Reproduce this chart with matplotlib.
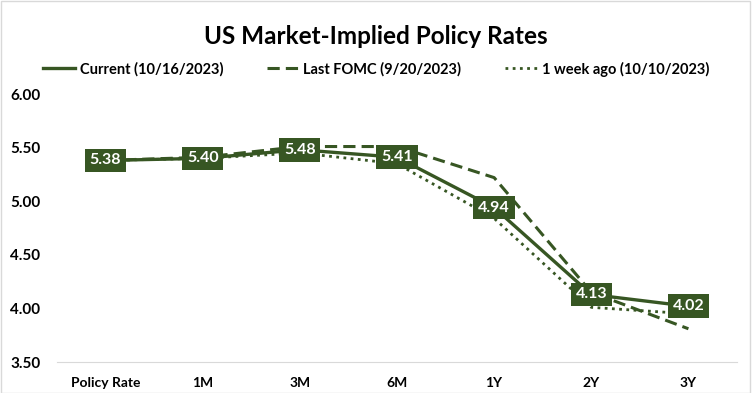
import matplotlib
matplotlib.use("Agg")
import matplotlib.pyplot as plt
from matplotlib.lines import Line2D

plt.rcParams['font.family'] = ['Lato', 'DejaVu Sans']

tenors = ['Policy Rate', '1M', '3M', '6M', '1Y', '2Y', '3Y']
current = [5.38, 5.40, 5.48, 5.41, 4.94, 4.13, 4.02]
last_fomc = [5.38, 5.41, 5.51, 5.51, 5.22, 4.15, 3.81]
week_ago = [5.38, 5.40, 5.45, 5.35, 4.84, 4.01, 3.95]

green = '#375623'

fig = plt.figure(figsize=(7.52, 3.93), dpi=100)
ax = fig.add_axes([57 / 752, 1 - 362 / 393, 680 / 752, 268 / 393])

xs = range(len(tenors))
ax.plot(xs, last_fomc, color=green, lw=2.2, ls=(0, (4, 2)))
ax.plot(xs, week_ago, color=green, lw=2.0, ls=(0, (1, 1.6)))
ax.plot(xs, current, color=green, lw=2.4)

for i, v in enumerate(current):
    ax.text(i, v, f'{v:.2f}', ha='center', va='center', color='white',
            fontsize=11.5, fontweight='bold',
            bbox=dict(boxstyle='square,pad=0.3', fc=green, ec='none'))

ax.set_xlim(-0.5, len(tenors) - 0.5)
ax.set_ylim(3.5, 6.0)
ax.set_yticks([3.5, 4.0, 4.5, 5.0, 5.5, 6.0])
ax.set_yticklabels([f'{t:.2f}' for t in ax.get_yticks()])
ax.set_xticks(list(xs))
ax.set_xticklabels(tenors)
for lab in ax.get_xticklabels():
    lab.set_fontweight('bold')
    lab.set_fontsize(10)
for lab in ax.get_yticklabels():
    lab.set_fontweight('bold')
    lab.set_fontsize(11)
ax.tick_params(length=0, pad=11)
ax.tick_params(axis='y', pad=12)
for s in ['top', 'right', 'left']:
    ax.spines[s].set_visible(False)
ax.spines['bottom'].set_color('#d9d9d9')

fig.text(0.5, 1 - 37 / 393, 'US Market-Implied Policy Rates', ha='center',
         va='center', fontsize=17.5, fontweight='bold')

handles = [
    Line2D([], [], color=green, lw=2.4),
    Line2D([], [], color=green, lw=2.2, ls=(0, (4, 2))),
    Line2D([], [], color=green, lw=2.0, ls=(0, (1, 1.6))),
]
labels = ['Current (10/16/2023)', 'Last FOMC (9/20/2023)', '1 week ago (10/10/2023)']
leg = fig.legend(handles, labels, loc='center', bbox_to_anchor=(0.5, 1 - 69 / 393),
                 ncol=3, frameon=False, handlelength=2.2, handletextpad=0.3,
                 columnspacing=3.0, prop={'weight': 'bold', 'size': 10.5})

fig.patches.append(plt.Rectangle((0.001, 0.001), 0.997, 0.997, transform=fig.transFigure,
                                 fill=False, ec='#d9d9d9', lw=1))

fig.savefig('out.png', dpi=100)
